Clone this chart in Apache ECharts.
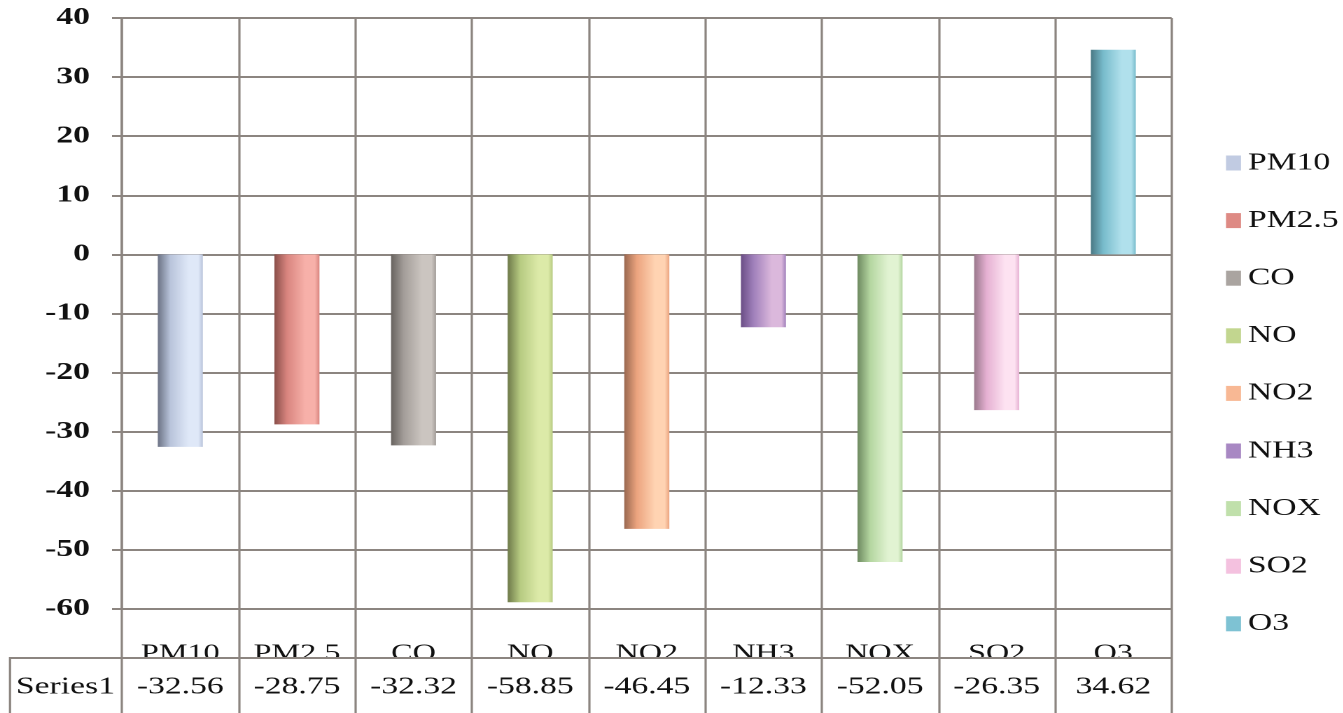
<!DOCTYPE html>
<html>
<head>
<meta charset="utf-8">
<script src="https://cdn.jsdelivr.net/npm/echarts@6/dist/echarts.min.js"></script>
<style>
  html, body { margin: 0; padding: 0; background: #fff; overflow: hidden; }
  #chart { position: absolute; left: 0; top: 0; height: 713px; transform-origin: 0 0; }
</style>
</head>
<body>
<div id="chart"></div>
<script>
// Pollutant change (%) per species
const categories = ['PM10', 'PM2.5', 'CO', 'NO', 'NO2', 'NH3', 'NOX', 'SO2', 'O3'];
const values = [-32.56, -28.75, -32.32, -58.85, -46.45, -12.33, -52.05, -26.35, 34.62];
const seriesLabel = 'Series1';
const yMin = -60, yMax = 40, yStep = 10;

// Bar shading: [shadow edge, base, highlight]
const barShades = [
  ['#6c7385', '#b9c4db', '#dfe8f8'],
  ['#8a4f4a', '#d9857f', '#f7b0a9'],
  ['#68635f', '#a39d99', '#cbc5c0'],
  ['#6e7a4a', '#b7cb82', '#dcEAa8'],
  ['#9a6850', '#eca47f', '#ffd3b2'],
  ['#6b4e86', '#a080bb', '#dbb8dc'],
  ['#6e8a61', '#b4d6a0', '#e1f3d2'],
  ['#9a788c', '#e6b1d3', '#fde2f1'],
  ['#497884', '#78bccc', '#b0e0ec']
];
// Legend swatches
const legendColors = ['#c1cbe2', '#de8a84', '#aaa4a0', '#c2d68f', '#f8b894', '#a888c3', '#c0e0ab', '#f4c1df', '#7ec2d3'];

// The whole drawing is laid out narrow and widened horizontally
const S = 1.4;
const W = 1343 / S;
const X = px => px / S;
const GRID = '#8c8580';
const SERIF = '"Liberation Serif", "Times New Roman", serif';

const dom = document.getElementById('chart');
dom.style.width = W + 'px';
dom.style.transform = 'scaleX(' + S + ')';
const chart = echarts.init(dom, null, { renderer: 'canvas', devicePixelRatio: 2 });

function cylinder(sh) {
  return new echarts.graphic.LinearGradient(0, 0, 1, 0, [
    { offset: 0, color: sh[0] },
    { offset: 0.28, color: sh[1] },
    { offset: 0.68, color: sh[2] },
    { offset: 0.9, color: sh[2] },
    { offset: 1, color: sh[1] }
  ]);
}

const series = categories.map((name, i) => ({
  name: name,
  type: 'bar',
  barWidth: X(45),
  barGap: '-100%',
  data: values.map((v, j) => (j === i ? v : null)),
  itemStyle: { color: cylinder(barShades[i]) },
  emphasis: { disabled: true },
  animation: false
}));

chart.setOption({
  animation: false,
  backgroundColor: '#fff',
  grid: { left: X(122), right: X(171), top: 18, bottom: 104, containLabel: false },
  legend: {
    orient: 'vertical',
    left: X(1219),
    top: 146,
    icon: 'rect',
    itemWidth: X(15),
    itemHeight: 15,
    itemGap: 33.6,
    selectedMode: false,
    textStyle: { fontFamily: SERIF, fontSize: 24, color: '#111' },
    data: categories.map((c, i) => ({ name: c, itemStyle: { color: legendColors[i] } }))
  },
  xAxis: [
    {
      type: 'category',
      data: categories,
      position: 'bottom',
      boundaryGap: true,
      axisLine: { show: false },
      axisTick: { show: false },
      splitLine: { show: true, interval: 0, lineStyle: { color: GRID, width: 1.6 } },
      axisLabel: {
        interval: 0, margin: 45, verticalAlign: 'middle',
        fontFamily: SERIF, fontSize: 23, color: '#111'
      }
    },
    {
      type: 'category',
      data: values.map(v => v.toFixed(2)),
      position: 'bottom',
      boundaryGap: true,
      z: 60,
      axisLine: { show: false },
      axisTick: { show: true, interval: 0, length: 104, lineStyle: { color: GRID, width: 1.6 } },
      splitLine: { show: false },
      axisLabel: {
        interval: 0, margin: 78, verticalAlign: 'middle',
        fontFamily: SERIF, fontSize: 24, color: '#111'
      }
    }
  ],
  yAxis: {
    type: 'value',
    min: yMin,
    max: yMax,
    interval: yStep,
    axisLine: { show: true, lineStyle: { color: GRID, width: 1.6 } },
    axisTick: { show: true, length: X(10), lineStyle: { color: GRID, width: 2 } },
    splitLine: { show: true, lineStyle: { color: GRID, width: 2 } },
    axisLabel: {
      margin: X(32),
      fontFamily: SERIF, fontSize: 24, fontWeight: 'bold', color: '#111'
    }
  },
  graphic: [
    // data table row background, trims the category labels at the rule
    { type: 'rect', z: 50, silent: true,
      shape: { x: X(10), y: 659, width: X(1162), height: 60 },
      style: { fill: '#fff' } },
    { type: 'line', z: 70, silent: true,
      shape: { x1: X(10), y1: 658, x2: X(1172), y2: 658 },
      style: { stroke: GRID, lineWidth: 2 } },
    { type: 'line', z: 70, silent: true,
      shape: { x1: X(10), y1: 657, x2: X(10), y2: 713 },
      style: { stroke: GRID, lineWidth: 1.6 } },
    { type: 'text', z: 70, silent: true,
      x: X(16), y: 687,
      style: { text: seriesLabel, fontFamily: SERIF, fontSize: 24, fill: '#111', verticalAlign: 'middle' } }
  ],
  series: series
});
</script>
</body>
</html>
